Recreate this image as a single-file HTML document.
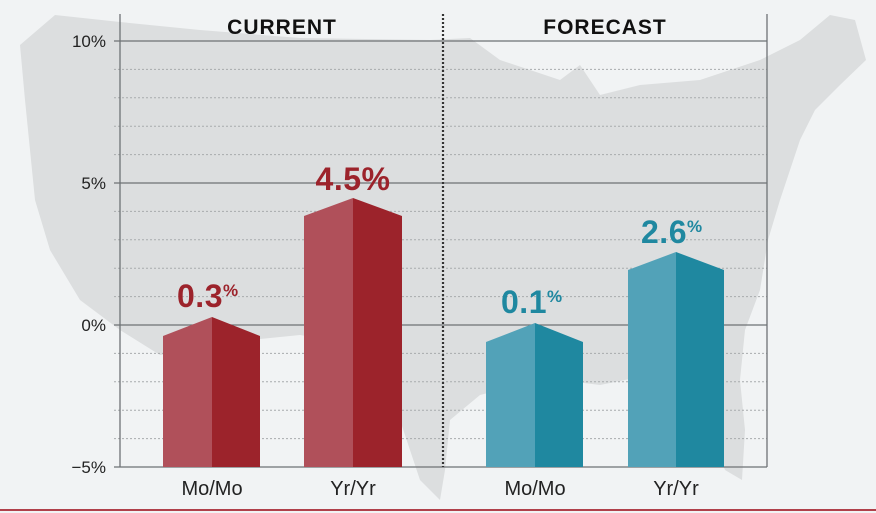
<!DOCTYPE html>
<html><head><meta charset="utf-8"><style>
html,body{margin:0;padding:0;background:#f1f3f4;}
svg{display:block;font-family:"Liberation Sans",sans-serif;}
</style></head><body>
<svg width="876" height="513" viewBox="0 0 876 513">
<rect width="876" height="513" fill="#f1f3f4"/>
<path d="M20,45 L55,15 L120,22 L200,30 L300,38 L430,40 L470,38 L500,60 L560,80 L580,65 L600,95 L640,85 L700,80 L760,60 L800,40 L830,15 L855,20 L866,60 L840,85 L815,110 L800,140 L790,170 L780,200 L768,240 L760,290 L745,330 L740,380 L745,430 L742,480 L725,470 L705,420 L690,380 L650,375 L600,385 L560,380 L520,385 L480,395 L450,420 L445,470 L440,500 L420,480 L400,420 L370,370 L330,340 L300,335 L250,340 L200,350 L160,355 L120,330 L80,300 L50,250 L35,200 L30,150 L25,100 Z" fill="#dcdedf"/>
<g stroke="#a8abad" stroke-width="1" stroke-dasharray="2,2">
<line x1="114" x2="767" y1="69.4" y2="69.4"/><line x1="114" x2="767" y1="97.8" y2="97.8"/><line x1="114" x2="767" y1="126.2" y2="126.2"/><line x1="114" x2="767" y1="154.6" y2="154.6"/>
<line x1="114" x2="767" y1="211.4" y2="211.4"/><line x1="114" x2="767" y1="239.8" y2="239.8"/><line x1="114" x2="767" y1="268.2" y2="268.2"/><line x1="114" x2="767" y1="296.6" y2="296.6"/>
<line x1="114" x2="767" y1="353.4" y2="353.4"/><line x1="114" x2="767" y1="381.8" y2="381.8"/><line x1="114" x2="767" y1="410.2" y2="410.2"/><line x1="114" x2="767" y1="438.6" y2="438.6"/>
</g>
<g stroke="#6e7275" stroke-width="1.3">
<line x1="114" x2="767" y1="41" y2="41"/><line x1="114" x2="767" y1="183" y2="183"/><line x1="114" x2="767" y1="325" y2="325"/><line x1="114" x2="767" y1="467" y2="467"/>
<line x1="120" x2="120" y1="14" y2="467"/><line x1="767" x2="767" y1="14" y2="467"/>
</g>
<line x1="443" x2="443" y1="14" y2="467" stroke="#333" stroke-width="2.2" stroke-dasharray="2,2"/>
<g font-size="17" fill="#222" text-anchor="end">
<text x="106" y="47">10%</text><text x="106" y="189">5%</text><text x="106" y="331">0%</text><text x="106" y="473">−5%</text>
</g>
<g font-size="21" font-weight="bold" fill="#111" text-anchor="middle" letter-spacing="1">
<text x="282" y="34">CURRENT</text><text x="605" y="34">FORECAST</text>
</g>
<polygon points="163,336 212,317 212,467 163,467" fill="#b0505a"/>
<polygon points="212,317 260,336 260,467 212,467" fill="#9c232b"/>
<polygon points="304,216 353,198 353,467 304,467" fill="#b0505a"/>
<polygon points="353,198 402,216 402,467 353,467" fill="#9c232b"/>
<polygon points="486,342 535,323 535,467 486,467" fill="#52a2b8"/>
<polygon points="535,323 583,342 583,467 535,467" fill="#1f88a0"/>
<polygon points="628,270 676,252 676,467 628,467" fill="#52a2b8"/>
<polygon points="676,252 724,270 724,467 676,467" fill="#1f88a0"/>
<g font-weight="bold" letter-spacing="0.5">
<text x="177" y="307" font-size="32" fill="#9c232b">0.3<tspan font-size="17" dy="-11">%</tspan></text>
<text x="353" y="190" font-size="32" fill="#9c232b" text-anchor="middle">4.5%</text>
<text x="501" y="313" font-size="32" fill="#1f88a0">0.1<tspan font-size="17" dy="-11">%</tspan></text>
<text x="641" y="243" font-size="32" fill="#1f88a0">2.6<tspan font-size="17" dy="-11">%</tspan></text>
</g>
<g font-size="20" fill="#222" text-anchor="middle">
<text x="212" y="495">Mo/Mo</text><text x="353" y="495">Yr/Yr</text>
<text x="535" y="495">Mo/Mo</text><text x="676" y="495">Yr/Yr</text>
</g>
<rect x="0" y="509" width="876" height="2" fill="#b0404a"/>
</svg>
</body></html>
